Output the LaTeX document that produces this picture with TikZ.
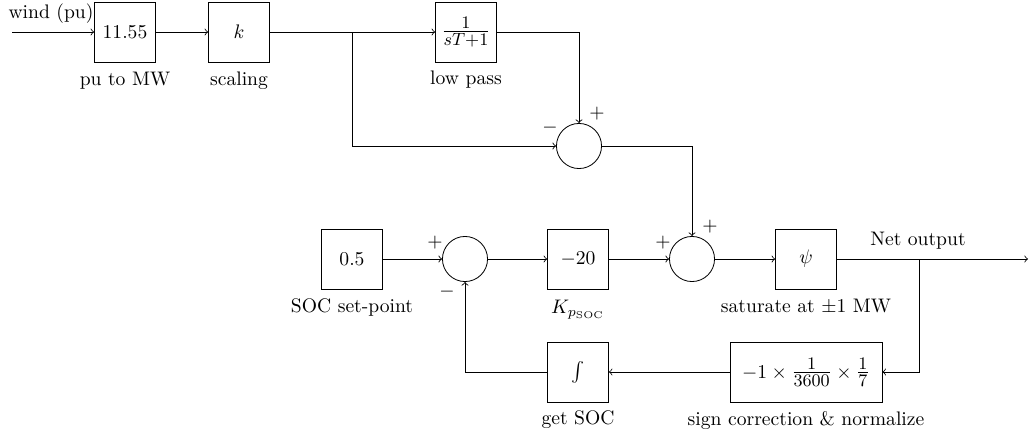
\documentclass[tikz,border=0pt]{standalone}
\newcommand{\bigfrac}[2]{\mbox{\fontsize{13}{15}\selectfont$\frac{#1}{#2}$}}
\begin{document}
\begin{tikzpicture}[x=0.51pt,y=-0.51pt, line width=0.42pt,
 blk/.style={draw, minimum width=31pt, minimum height=30.6pt, inner sep=1pt},
 sumnode/.style={draw, circle, minimum size=23pt, inner sep=0pt},
 lbl/.style={inner sep=0pt},
 conn/.style={->}]
\useasboundingbox (0,0) rectangle (1030,435);
\node[blk] (pu) at (125,32) {$11.55$};
\node[blk] (k) at (239,32) {$k$};
\node[blk] (lp) at (466,32) {\bigfrac{1}{sT+1}};
\node[sumnode] (s1) at (579,146) {};
\node[blk] (sp) at (352,259) {$0.5$};
\node[sumnode] (s2) at (465,259) {};
\node[blk] (kp) at (578,259) {$-20$};
\node[sumnode] (s3) at (692,259) {};
\node[blk] (sat) at (806,259) {$\psi$};
\node[blk, minimum width=77.5pt] (norm) at (806,372) {$-1\times{}$\bigfrac{1}{3600}${}\times{}$\bigfrac{1}{7}};
\node[blk] (int) at (578,372) {$\int$};

\node[lbl] (lwind) at (51,14) {wind (pu)};
\node[lbl] (lpu) at (125,81) {pu to MW};
\node[lbl] (lk) at (239,81) {scaling};
\node[lbl] (llp) at (466,80) {low pass};
\node[lbl] (lsp) at (352,307) {SOC set-point};
\node[lbl] (lkp) at (578,310) {$K_{p_{\mathrm{SOC}}}$};
\node[lbl] (lsat) at (806,307) {saturate at $\pm1$ MW};
\node[lbl] (lnet) at (918,241) {Net output};
\node[lbl] (lnorm) at (806,420) {sign correction \& normalize};
\node[lbl] (lint) at (578,420) {get SOC};

\node[lbl] (g1) at (550,128) {$-$};
\node[lbl] (g2) at (597,114) {$+$};
\node[lbl] (g3) at (435,243) {$+$};
\node[lbl] (g4) at (447,292) {$-$};
\node[lbl] (g5) at (663,243) {$+$};
\node[lbl] (g6) at (710,227) {$+$};

\coordinate (in) at (12,32);
\coordinate (br1) at (352,32);
\coordinate (br2) at (919,259);
\coordinate (out) at (1028,259);

\draw[conn] (in) -- (pu);
\draw[conn] (pu) -- (k);
\draw[conn] (k) -- (lp);
\draw[conn] (br1) |- (s1);
\draw[conn] (lp) -| (s1);
\draw[conn] (s1) -| (s3);
\draw[conn] (sp) -- (s2);
\draw[conn] (s2) -- (kp);
\draw[conn] (kp) -- (s3);
\draw[conn] (s3) -- (sat);
\draw[conn] (sat) -- (out);
\draw[conn] (br2) |- (norm);
\draw[conn] (norm) -- (int);
\draw[conn] (int) -| (s2);
\end{tikzpicture}
\end{document}
